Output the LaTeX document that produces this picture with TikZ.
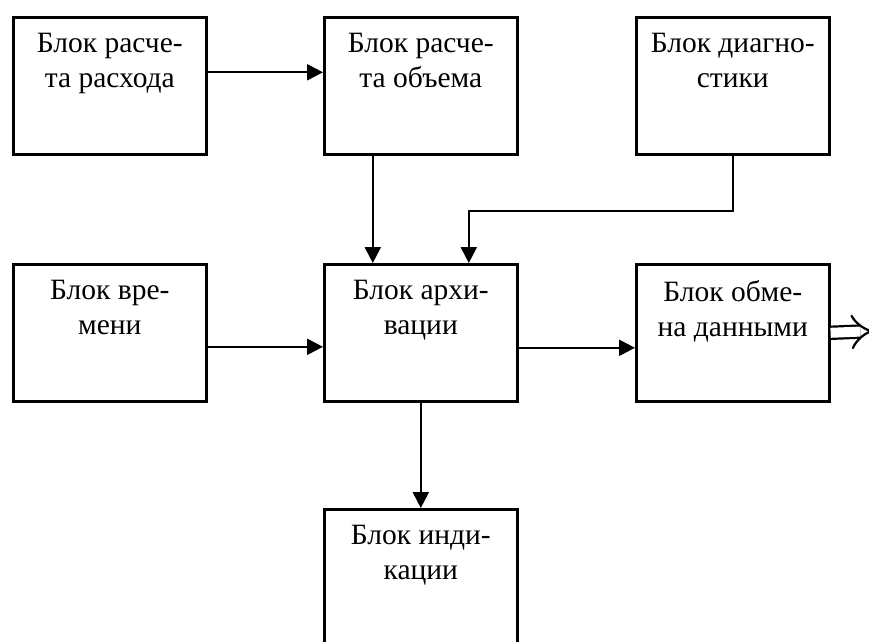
\documentclass[tikz,border=0pt]{standalone}
\usepackage{fontspec}
\setmainfont{Liberation Serif}
\usepackage{tikz}
\usetikzlibrary{arrows.meta,positioning}
\definecolor{lineblack}{RGB}{0,0,0}

\begin{document}
\begin{tikzpicture}[x=1pt, y=-1pt,
  blok/.style={draw=lineblack, line width=2.6pt, minimum width=193pt, minimum height=137pt, anchor=north west, inner sep=0pt},
  nadpis/.style={anchor=north, yshift=-14pt, align=center, font=\fontsize{29.5}{35}\selectfont},
  pil/.style={-{Triangle[length=16pt, width=16pt]}, line width=2.2pt, color=lineblack},
  vyh/.style={-{Implies}, double, double distance=10pt, line width=2.2pt, color=lineblack}]
\useasboundingbox (0,0) rectangle (869,641);
\node[blok, label={[nadpis]north:Блок расче-\\та расхода}] (rashod) at (12,16) {};
\node[blok, label={[nadpis]north:Блок расче-\\та объема}] (obem) at (323,16) {};
\node[blok, label={[nadpis]north:Блок диагно-\\стики}] (diagn) at (635,16) {};
\node[blok, label={[nadpis]north:Блок вре-\\мени}] (vremya) at (12,263) {};
\node[blok, label={[nadpis]north:Блок архи-\\вации}] (arhiv) at (323,263) {};
\node[blok, label={[nadpis]north:Блок обме-\\на данными}] (obmen) at (635,263) {};
\node[blok, label={[nadpis]north:Блок инди-\\кации}] (indik) at (323,508) {};
\coordinate (vyhod) at (874,331);
% connectors
\draw[pil] ([yshift=13.5pt]rashod.east) -- ([yshift=13.5pt]obem.west);
\draw[pil] ([xshift=-48pt]obem.south) -- ([xshift=-48pt]arhiv.north);
\draw[pil] (diagn.south) -- ++(0,55) -| ([xshift=48pt]arhiv.north);
\draw[pil] ([yshift=-14pt]vremya.east) -- ([yshift=-14pt]arhiv.west);
\draw[pil] ([yshift=-15pt]arhiv.east) -- ([yshift=-15pt]obmen.west);
\draw[pil] (arhiv.south) -- (indik.north);
\draw[vyh] (obmen.east) -- (vyhod);
\end{tikzpicture}
\end{document}
